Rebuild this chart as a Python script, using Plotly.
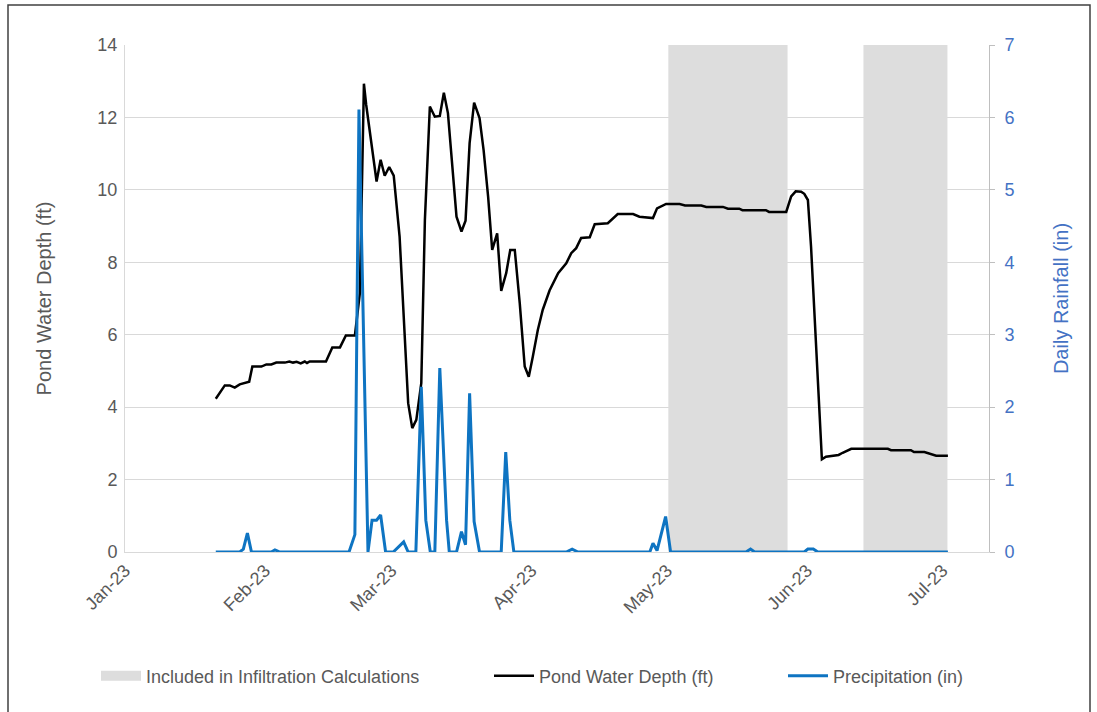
import plotly.graph_objects as go
import pandas as pd

BASE = pd.Timestamp("2023-01-01")

# x values are days since 2023-01-01
depth_day = [20.1, 22.1, 23.2, 24.3, 25.4, 27.5, 28.2, 30.2, 31.3, 32.4, 33.5, 35.4, 36.4, 37.2,
             38.0, 38.9, 39.8, 40.3, 40.9, 44.5, 45.9, 47.6, 48.9, 50.9, 52.0, 52.9, 53.4, 55.7,
             56.6, 57.5, 58.5, 59.5, 60.8, 62.7, 63.6, 64.5, 65.6, 66.4, 67.5, 68.6, 69.7, 70.6,
             71.5, 73.4, 74.5, 75.4, 76.3, 77.3, 78.5, 79.4, 80.4, 81.3, 82.4, 83.3, 84.4, 85.3,
             86.3, 87.4, 88.5, 89.4, 90.3, 91.4, 92.5, 94.0, 95.9, 97.7, 98.8, 99.9, 101.0, 102.9,
             104.0, 106.9, 109.1, 112.5, 113.9, 116.9, 117.8, 119.8, 122.8, 124.0, 127.6, 128.7,
             132.4, 133.5, 136.0, 136.7, 141.9, 142.6, 146.4, 147.5, 148.5, 149.7, 150.4, 151.2,
             151.9, 154.3, 155.2, 156.7, 158.0, 158.9, 160.8, 168.9, 169.6, 174.0, 174.7, 177.0,
             179.6, 182.2]
depth_ft = [4.23, 4.60, 4.60, 4.54, 4.63, 4.70, 5.12, 5.12, 5.18, 5.18, 5.23, 5.23, 5.26, 5.23,
            5.25, 5.21, 5.26, 5.22, 5.26, 5.26, 5.65, 5.65, 5.98, 5.98, 7.15, 12.93, 12.35, 10.23,
            10.83, 10.39, 10.63, 10.39, 8.71, 4.11, 3.42, 3.65, 4.66, 9.17, 12.30, 12.02, 12.04, 12.68,
            12.12, 9.26, 8.85, 9.15, 11.29, 12.41, 11.98, 11.10, 9.81, 8.34, 8.80, 7.21, 7.70, 8.34,
            8.34, 6.87, 5.12, 4.84, 5.40, 6.13, 6.69, 7.22, 7.70, 7.97, 8.25, 8.39, 8.67, 8.69,
            9.05, 9.08, 9.33, 9.33, 9.26, 9.22, 9.49, 9.61, 9.61, 9.57, 9.57, 9.53,
            9.53, 9.48, 9.48, 9.44, 9.44, 9.39, 9.39, 9.82, 9.96, 9.95, 9.89, 9.72,
            8.43, 2.56, 2.63, 2.66, 2.68, 2.74, 2.85, 2.85, 2.81, 2.81, 2.76, 2.76,
            2.66, 2.66]

rain_day = [20.1, 25.4, 26.2, 27.1, 28.0, 32.4, 33.2, 34.3, 49.6, 50.9, 51.8, 53.8, 54.7, 55.7,
            56.6, 57.7, 59.4, 61.7, 62.7, 64.4, 65.6, 66.6, 67.6, 68.6, 69.7, 71.2, 71.8, 73.4,
            74.5, 75.4, 76.3, 77.3, 78.5, 83.3, 84.3, 85.2, 86.1, 97.7, 99.0, 100.3, 116.2, 116.9,
            117.8, 119.7, 120.8, 137.5, 138.5, 139.4, 150.4, 151.2, 152.4, 153.4, 182.2]
rain_in = [0, 0, 0.04, 0.26, 0, 0, 0.03, 0, 0, 0.24, 6.11, 0, 0.44, 0.44,
           0.51, 0, 0, 0.14, 0, 0, 2.28, 0.44, 0, 0, 2.54, 0.44, 0, 0,
           0.28, 0.10, 2.19, 0.42, 0, 0, 1.38, 0.44, 0, 0, 0.04, 0, 0, 0.12,
           0.02, 0.49, 0, 0, 0.04, 0, 0, 0.04, 0.04, 0, 0]

band_start_day = [120.3, 163.5]
band_end_day = [146.7, 182.1]

month_ticks = ["2023-01-01", "2023-02-01", "2023-03-01", "2023-04-01",
               "2023-05-01", "2023-06-01", "2023-07-01"]
month_labels = ["Jan-23", "Feb-23", "Mar-23", "Apr-23", "May-23", "Jun-23", "Jul-23"]

axis_end_day = 191.3
depth_max, rain_max = 14, 7


def to_date(days):
    return [BASE + pd.Timedelta(days=d) for d in days]


bx, by = [], []
for s, e in zip(to_date(band_start_day), to_date(band_end_day)):
    bx += [s, s, e, e, s, None]
    by += [0, depth_max, depth_max, 0, 0, None]

FONT = "Liberation Sans, Arial, sans-serif"
GRAY_TXT = "#595959"
BLUE_TXT = "#4472C4"
BAND = "#DDDDDD"
W, H = 1097, 712

fig = go.Figure()
fig.add_trace(go.Scatter(
    x=bx, y=by, fill="toself", fillcolor=BAND, mode="lines",
    line=dict(width=0, color=BAND), name="Included in Infiltration Calculations",
    hoverinfo="skip", showlegend=False))
# legend entry for the bands (thick swatch)
fig.add_trace(go.Scatter(
    x=[None], y=[None], mode="lines", line=dict(width=13, color=BAND),
    name="Included in Infiltration Calculations", legend="legend", showlegend=True))
fig.add_trace(go.Scatter(
    x=to_date(depth_day), y=depth_ft, mode="lines", line=dict(color="black", width=2.5),
    name="Pond Water Depth (ft)", legend="legend2"))
fig.add_trace(go.Scatter(
    x=to_date(rain_day), y=rain_in, mode="lines", line=dict(color="#0E74C2", width=3),
    name="Precipitation (in)", yaxis="y2", legend="legend3"))

legend_common = dict(orientation="h", yanchor="middle", xanchor="left",
                     xref="container", yref="container",
                     font=dict(family=FONT, size=18, color=GRAY_TXT),
                     bgcolor="rgba(0,0,0,0)", itemwidth=40)

fig.update_layout(
    width=W, height=H, showlegend=True,
    margin=dict(l=125, r=108, t=45, b=160, autoexpand=False),
    paper_bgcolor="white", plot_bgcolor="white",
    font=dict(family=FONT, size=18, color=GRAY_TXT),
    xaxis=dict(type="date", range=[BASE, BASE + pd.Timedelta(days=axis_end_day)],
               tickvals=month_ticks, ticktext=month_labels, tickangle=-45,
               showgrid=False, showline=True, linecolor="#D9D9D9", linewidth=1,
               ticks="", tickfont=dict(size=18, color=GRAY_TXT), zeroline=False, automargin=False),
    yaxis=dict(range=[0, depth_max], dtick=2, showgrid=True, gridcolor="#D9D9D9",
               showline=True, linecolor="#D9D9D9", ticks="", zeroline=False, automargin=False,
               tickfont=dict(size=18, color=GRAY_TXT), ticklabelstandoff=3,
               title=dict(text="Pond Water Depth (ft)", font=dict(size=20, color=GRAY_TXT), standoff=40)),
    yaxis2=dict(range=[0, rain_max], dtick=1, overlaying="y", side="right", showgrid=False,
                showline=True, linecolor="#BFBFBF", ticks="outside", ticklen=5, tickcolor="#BFBFBF",
                zeroline=False, automargin=False, tickfont=dict(size=18, color=BLUE_TXT),
                ticklabelstandoff=6,
                title=dict(text="Daily Rainfall (in)", font=dict(size=20, color=BLUE_TXT), standoff=40)),
    legend=dict(x=96 / W, y=1 - 676 / H, **legend_common),
    legend2=dict(x=489 / W, y=1 - 676 / H, **legend_common),
    legend3=dict(x=783 / W, y=1 - 676 / H, **legend_common),
    shapes=[dict(type="rect", xref="paper", yref="paper",
                 x0=-117 / 864, x1=(1090 - 125) / 864, y0=(552 - 730) / 507, y1=(552 - 5) / 507,
                 line=dict(color="#404040", width=1.5), fillcolor="rgba(0,0,0,0)", layer="below")],
)

fig.write_html("out.html", config={"displayModeBar": False},
               post_script="document.body.style.margin='0px';")
